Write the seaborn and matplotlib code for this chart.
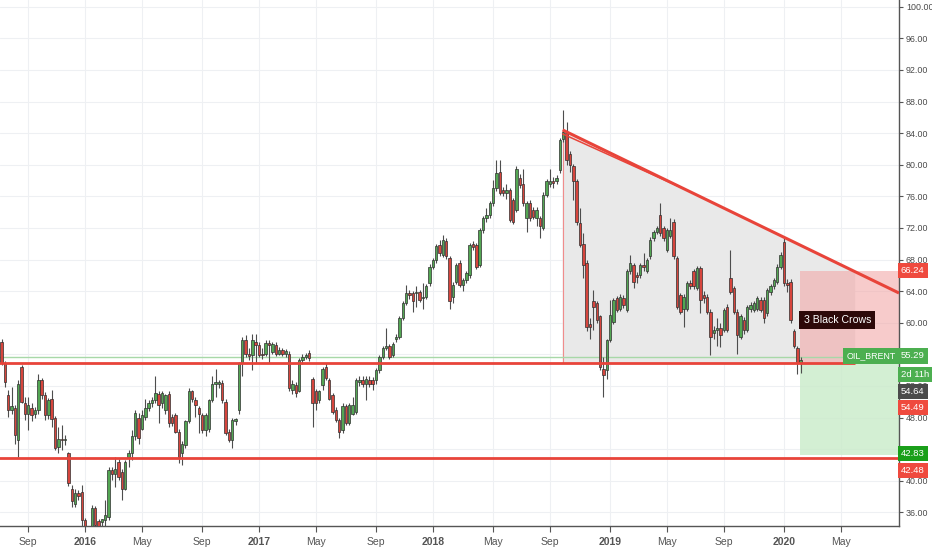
import matplotlib
matplotlib.use("Agg")
import matplotlib.pyplot as plt
import matplotlib.transforms as mtransforms
from matplotlib.patches import Polygon, Rectangle
import numpy as np
import pandas as pd
import seaborn as sns

# weekly OIL_BRENT candles, bar 0 = week of 2015-07-06
start = pd.Timestamp("2015-07-06")

opens = [
    58.9, 57.6, 54.9, 50.9, 48.9, 49.2, 45.1, 54.4, 49.8, 48.5,
    49.2, 48.5, 48.9, 52.7, 50.9, 48.3, 50.3, 47.9, 44.3, 45.3,
    45.1, 43.5, 39.0, 37.1, 38.5, 38.6, 35.0, 31.8, 33.5, 36.6,
    34.9, 34.8, 35.0, 35.4, 41.4, 40.9, 42.4, 41.1, 39.0, 43.0,
    43.5, 45.6, 47.9, 46.6, 48.1, 49.2, 49.8, 50.2, 51.0, 49.8,
    48.9, 51.0, 48.1, 48.3, 46.2, 43.5, 44.5, 47.5, 51.3, 50.2,
    49.2, 48.3, 46.4, 46.6, 50.2, 52.3, 52.3, 52.4, 50.0, 46.2,
    45.2, 47.5, 48.95, 54.85, 57.8, 56.1, 55.9, 57.6, 57.2, 56.1,
    56.1, 57.4, 56.3, 57.2, 56.1, 56.5, 56.1, 56.1, 51.5, 52.1,
    51.4, 55.3, 55.6, 56.2, 52.9, 51.3, 50.2, 52.1, 54.4, 52.75,
    50.85, 48.95, 47.7, 46.4, 49.4, 47.3, 48.5, 48.7, 52.5, 52.8,
    52.3, 52.8, 52.75, 52.75, 54.0, 55.7, 56.8, 57.0, 55.9, 58.0,
    58.2, 60.6, 62.45, 63.8, 63.7, 63.7, 63.9, 63.1, 63.3, 65.0,
    67.1, 67.9, 69.8, 68.6, 70.4, 68.2, 63.3, 65.2, 67.5, 64.8,
    65.4, 66.0, 70.0, 69.8, 67.3, 71.7, 73.2, 73.6, 75.1, 77.0,
    79.1, 76.8, 76.4, 76.8, 75.5, 74.3, 78.3, 77.6, 73.2, 75.1,
    74.3, 73.2, 73.2, 72.0, 76.2, 77.5, 77.9, 77.9, 79.3, 83.3,
    84.0, 81.4, 79.8, 77.9, 72.6, 70.0, 67.6, 59.9, 62.7, 62.45,
    60.8, 54.2, 54.0, 57.8, 60.1, 63.1, 61.8, 63.1, 61.6, 66.5,
    67.3, 66.0, 66.0, 67.3, 66.6, 68.4, 70.7, 71.5, 73.6, 72.0,
    69.2, 71.0, 72.8, 68.2, 63.5, 61.8, 61.8, 65.0, 66.5, 64.4,
    66.9, 63.5, 63.3, 61.4, 58.7, 59.1, 59.3, 59.1, 62.0, 65.6,
    64.35, 61.4, 58.2, 60.3, 59.1, 61.8, 61.6, 61.8, 62.9, 62.9,
    61.2, 63.9, 64.6, 65.2, 67.1, 70.2, 65.0, 65.2, 58.9, 56.8,
    54.9,
]
highs = [
    59.3, 58.0, 55.1, 51.5, 51.9, 49.6, 52.7, 54.6, 50.6, 50.6,
    49.8, 49.3, 53.5, 53.0, 51.2, 50.5, 51.5, 48.2, 46.8, 47.0,
    45.8, 43.7, 39.4, 39.0, 38.8, 39.5, 35.3, 34.0, 36.9, 36.8,
    35.1, 35.2, 37.5, 41.8, 41.8, 43.0, 42.8, 41.5, 42.6, 43.9,
    46.4, 48.9, 48.6, 48.9, 50.4, 50.2, 50.6, 53.2, 51.3, 51.4,
    51.0, 51.3, 48.4, 48.6, 46.5, 45.0, 47.7, 51.7, 51.5, 50.6,
    49.5, 48.6, 48.6, 50.4, 53.2, 54.2, 52.8, 52.7, 50.3, 46.5,
    47.9, 48.0, 55.0, 58.2, 58.4, 56.8, 58.6, 58.6, 57.6, 56.8,
    57.8, 57.8, 57.6, 57.5, 56.9, 56.8, 56.7, 56.4, 52.8, 52.5,
    55.5, 56.0, 56.2, 56.5, 53.1, 51.6, 51.5, 54.4, 54.9, 53.0,
    51.1, 49.3, 48.0, 49.8, 49.7, 49.9, 50.6, 53.0, 53.3, 53.3,
    53.3, 53.2, 53.1, 54.3, 55.9, 57.0, 59.3, 57.3, 57.6, 58.6,
    60.8, 62.7, 64.8, 64.1, 64.0, 64.6, 64.2, 65.0, 64.9, 67.4,
    68.2, 70.0, 70.5, 71.1, 70.7, 68.5, 65.1, 67.6, 67.9, 65.7,
    66.6, 70.1, 70.4, 70.1, 72.0, 73.5, 74.5, 75.4, 78.1, 80.6,
    80.6, 77.2, 77.6, 77.1, 75.8, 79.8, 78.8, 79.5, 75.4, 75.5,
    74.6, 74.6, 73.5, 76.5, 78.2, 79.5, 78.4, 78.7, 83.4, 86.9,
    85.4, 81.8, 80.1, 78.2, 74.5, 71.3, 68.0, 60.6, 64.1, 62.7,
    61.0, 55.7, 58.0, 62.9, 63.1, 63.4, 63.6, 63.5, 66.8, 68.6,
    67.6, 66.4, 67.6, 68.8, 68.2, 70.8, 71.8, 72.3, 75.1, 72.3,
    72.0, 73.2, 73.1, 68.5, 63.8, 63.6, 65.3, 65.4, 66.8, 67.2,
    67.2, 64.0, 63.6, 61.7, 59.6, 60.6, 60.0, 61.9, 62.4, 69.2,
    64.7, 61.7, 61.1, 60.7, 62.3, 62.6, 62.8, 63.4, 63.3, 63.2,
    64.4, 64.9, 65.7, 67.4, 68.9, 70.7, 65.5, 65.5, 59.2, 57.1,
    55.7,
]
lows = [
    57.4, 54.7, 51.9, 48.1, 48.5, 44.7, 43.0, 49.8, 47.7, 46.4,
    47.6, 48.0, 48.5, 50.3, 47.7, 47.8, 46.8, 43.9, 43.5, 43.9,
    44.5, 39.3, 36.7, 36.7, 37.5, 33.9, 31.0, 30.5, 33.0, 33.8,
    32.8, 33.2, 33.8, 35.0, 40.1, 39.2, 40.1, 37.6, 38.8, 41.8,
    42.6, 45.2, 44.7, 46.4, 47.7, 48.8, 49.3, 49.8, 47.3, 49.2,
    48.5, 46.8, 46.9, 46.0, 42.2, 42.0, 44.2, 47.3, 50.0, 48.1,
    46.0, 46.0, 45.6, 46.2, 50.0, 50.6, 51.8, 49.8, 45.8, 44.9,
    44.1, 47.0, 48.5, 53.2, 55.7, 55.3, 54.0, 54.9, 55.6, 55.4,
    55.8, 54.9, 56.0, 55.8, 55.9, 55.8, 55.7, 51.3, 51.0, 50.6,
    51.2, 54.8, 55.4, 55.1, 46.8, 49.0, 49.9, 51.5, 52.8, 50.2,
    48.5, 47.4, 45.4, 46.0, 47.0, 47.0, 48.3, 48.4, 52.0, 51.9,
    50.2, 51.9, 51.5, 52.3, 53.6, 55.4, 56.5, 55.4, 55.6, 57.6,
    57.9, 60.3, 62.2, 63.0, 61.4, 62.0, 62.6, 61.8, 63.0, 64.7,
    66.8, 67.6, 68.5, 68.3, 68.1, 61.8, 62.5, 64.9, 64.5, 64.0,
    65.0, 65.7, 69.2, 66.8, 67.0, 71.4, 72.8, 73.3, 74.8, 76.7,
    76.2, 76.0, 75.7, 72.7, 72.5, 74.0, 77.1, 74.8, 71.5, 72.9,
    73.1, 72.2, 70.7, 71.7, 75.9, 77.2, 77.0, 77.5, 78.9, 82.9,
    80.0, 79.1, 75.5, 72.4, 69.6, 65.6, 58.9, 58.0, 59.1, 60.0,
    54.0, 50.6, 52.9, 57.5, 59.8, 61.3, 61.5, 61.9, 61.3, 66.2,
    64.4, 65.0, 65.7, 66.6, 66.3, 68.1, 70.4, 71.2, 71.0, 70.3,
    68.9, 70.7, 68.1, 61.7, 61.1, 59.5, 61.5, 64.3, 64.3, 64.1,
    61.2, 62.5, 61.1, 55.9, 57.9, 57.0, 56.9, 58.8, 58.8, 63.6,
    61.1, 56.1, 57.9, 58.6, 58.8, 61.3, 61.3, 61.5, 61.3, 60.0,
    60.9, 63.5, 64.3, 64.9, 66.8, 64.7, 63.9, 60.0, 56.8, 53.5,
    53.6,
]
closes = [
    57.6, 54.9, 52.5, 49.0, 49.4, 45.8, 52.3, 50.0, 48.4, 49.6,
    48.3, 48.9, 52.7, 50.9, 48.3, 50.2, 47.8, 44.1, 45.3, 45.1,
    45.3, 39.7, 37.4, 38.4, 38.1, 35.0, 31.8, 33.5, 36.6, 34.4,
    33.5, 35.1, 35.6, 41.35, 40.9, 41.5, 40.5, 39.0, 42.4, 43.5,
    45.6, 48.6, 45.4, 48.3, 49.2, 49.8, 50.2, 51.1, 49.6, 51.1,
    50.8, 47.3, 47.3, 46.2, 43.0, 44.7, 47.5, 51.3, 50.4, 49.6,
    48.5, 46.4, 48.3, 50.2, 52.3, 52.4, 52.5, 50.2, 46.0, 45.2,
    47.7, 47.8, 54.85, 57.8, 56.1, 55.8, 57.8, 57.2, 55.9, 55.9,
    57.4, 57.2, 57.3, 56.1, 56.5, 56.1, 56.4, 51.7, 52.3, 51.1,
    55.3, 55.6, 55.9, 55.5, 49.8, 49.8, 51.3, 54.2, 53.0, 50.4,
    48.7, 47.7, 46.2, 49.4, 47.3, 49.6, 49.6, 52.75, 52.8, 52.3,
    52.9, 52.3, 52.3, 54.0, 55.7, 56.8, 57.0, 55.7, 57.3, 58.2,
    60.6, 62.45, 63.7, 63.5, 62.7, 63.9, 62.9, 63.3, 64.6, 67.1,
    67.9, 69.7, 68.8, 70.5, 68.4, 62.7, 64.8, 67.3, 64.8, 65.4,
    66.3, 69.8, 69.6, 67.1, 71.7, 73.2, 73.6, 75.1, 77.0, 78.9,
    76.4, 76.4, 76.8, 73.0, 72.8, 79.5, 77.4, 75.1, 75.1, 73.2,
    73.4, 74.3, 72.2, 76.2, 77.9, 77.9, 77.7, 78.3, 83.1, 84.2,
    80.6, 80.0, 77.9, 72.8, 69.8, 67.3, 59.5, 59.5, 62.0, 60.3,
    54.4, 53.4, 57.8, 61.0, 62.9, 61.6, 63.3, 62.2, 66.5, 67.5,
    65.2, 65.8, 67.3, 67.1, 67.9, 70.5, 71.5, 72.0, 71.3, 70.7,
    71.7, 71.7, 68.4, 62.0, 61.4, 63.3, 65.0, 64.6, 64.6, 66.9,
    62.9, 63.1, 61.4, 58.2, 59.1, 59.3, 58.4, 61.6, 59.1, 63.9,
    61.4, 58.4, 60.8, 59.1, 62.0, 62.2, 62.45, 63.1, 61.6, 60.6,
    64.1, 64.6, 65.4, 67.1, 68.6, 65.0, 64.8, 60.3, 57.0, 54.9,
    55.3,
]

# drawings on the chart
support_level = 54.9
lower_level = 42.9
last_price_line = 55.6
trend_start = (168.8, 84.4)
trend_end = (269.4, 63.76)
triangle_end_bar = 256.3
position_start_bar = 239.8
target_top = 66.6
stop_bottom = 43.25

tick_months = ["2015-09-01", "2016-01-01", "2016-05-01", "2016-09-01", "2017-01-01",
               "2017-05-01", "2017-09-01", "2018-01-01", "2018-05-01", "2018-09-01",
               "2019-01-01", "2019-05-01", "2019-09-01", "2020-01-01", "2020-05-01"]
tick_names = ["Sep", "2016", "May", "Sep", "2017", "May", "Sep", "2018", "May", "Sep",
              "2019", "May", "Sep", "2020", "May"]

axis_labels = ["66.24", "55.29", "2d 11h", "54.64", "54.49", "42.83", "42.48"]
axis_label_y = [66.67, 55.79, 53.45, 51.35, 49.25, 43.5, 41.35]
axis_label_colors = ["#ef4a3e", "#4caf50", "#4caf50", "#4a4a4a", "#ef4a3e", "#1a9f1a", "#ef4a3e"]

sns.set_theme(style="white")
plt.rcParams['font.family'] = ['Liberation Sans', 'DejaVu Sans']

fig = plt.figure(figsize=(9.32, 5.5), dpi=100)
ax = fig.add_axes([0, 24 / 550, 899 / 932, 526 / 550])

o = np.array(opens)
h = np.array(highs)
l = np.array(lows)
c = np.array(closes)
idx = np.arange(len(c))
up = c >= o
body_colors = np.where(up, "#53a653", "#d6453d")

# triangle shading
slope = (trend_end[1] - trend_start[1]) / (trend_end[0] - trend_start[0])
tri_top = trend_start[1] + slope * (triangle_end_bar - trend_start[0])
ax.add_patch(Polygon([(trend_start[0], trend_start[1]), (triangle_end_bar, tri_top),
                      (triangle_end_bar, support_level), (trend_start[0], support_level)],
                     closed=True, facecolor="#e9e9e9", edgecolor="none", zorder=1))
ax.vlines(trend_start[0], support_level, trend_start[1], color="#f08c8c", lw=0.8, zorder=2)

# long/short position boxes
ax.add_patch(Rectangle((position_start_bar, support_level), trend_end[0] - position_start_bar,
                       target_top - support_level, facecolor="#f2a9a9", alpha=0.6,
                       edgecolor="none", zorder=1.5))
ax.add_patch(Rectangle((position_start_bar, stop_bottom), trend_end[0] - position_start_bar,
                       support_level - stop_bottom, facecolor="#c9ebc9", alpha=0.8,
                       edgecolor="none", zorder=1.5))

# candles
ax.vlines(idx, l, h, color="#4d4d4d", lw=0.8, zorder=3)
ax.bar(idx, np.maximum(np.abs(c - o), 0.15), bottom=np.minimum(o, c), width=0.72,
       color=body_colors, edgecolor="#2f2f2f", linewidth=0.5, zorder=4)

# lines
ax.hlines(last_price_line, 0, triangle_end_bar, color="#a8d8a8", lw=1.0, zorder=2)
ax.hlines(support_level, 0, triangle_end_bar, color="#e8443a", lw=2.0, zorder=5)
ax.hlines(lower_level, 0, trend_end[0], color="#e8443a", lw=2.0, zorder=5)
ax.plot([trend_start[0], trend_end[0]], [trend_start[1], trend_end[1]],
        color="#e8443a", lw=2.2, zorder=5, solid_capstyle="butt")
ax.plot([trend_start[0], 205], [trend_start[1] - 0.5, trend_start[1] + slope * (205 - trend_start[0])],
        color="#e8443a", lw=1.1, zorder=5)

ax.text(240.9, 60.35, "3 Black Crows", color="white", fontsize=7.6, va="center", ha="left",
        zorder=7, bbox=dict(boxstyle="square,pad=0.4", facecolor="#2d0909", edgecolor="none"))

trans = mtransforms.blended_transform_factory(ax.transAxes, ax.transData)
ax.text(0.997, 55.79, "OIL_BRENT", transform=trans, color="white", fontsize=6.4,
        va="center", ha="right", zorder=7,
        bbox=dict(boxstyle="square,pad=0.4", facecolor="#4caf50", edgecolor="none"))

# axes
ax.set_xlim(0.54, trend_end[0])
ax.set_ylim(34.27, 100.85)

tick_pos = []
for m in tick_months:
    d = pd.Timestamp(m)
    first_bar = d + pd.Timedelta(days=(7 - d.weekday()) % 7)
    tick_pos.append((first_bar - start).days / 7)
ax.set_xticks(tick_pos)
ax.set_xticklabels(tick_names)
for lab in ax.get_xticklabels():
    if lab.get_text().isdigit():
        lab.set_fontweight("bold")
        lab.set_color("#333333")

yt = np.arange(36, 101, 4)
ax.set_yticks(yt)
ax.set_yticklabels([f"{v:.2f}" for v in yt])
ax.yaxis.tick_right()

ax.tick_params(axis="x", bottom=True, length=4, width=0.8, color="#555555",
               labelsize=7.5, labelcolor="#555555", pad=4)
ax.tick_params(axis="y", right=True, left=False, length=3, width=0.8, color="#555555",
               labelsize=6.4, labelcolor="#4a4a4a", pad=2)

ax.grid(True, color="#eef0f3", lw=0.8, zorder=0)
ax.set_axisbelow(True)
for side in ["left", "top"]:
    ax.spines[side].set_visible(False)
for side in ["right", "bottom"]:
    ax.spines[side].set_color("#555555")
    ax.spines[side].set_linewidth(1.0)

for txt, yv, col in zip(axis_labels, axis_label_y, axis_label_colors):
    ax.text(1.0022, yv, txt, transform=trans, color="white", fontsize=6.8, va="center",
            ha="left", zorder=8, clip_on=False,
            bbox=dict(boxstyle="square,pad=0.32", facecolor=col, edgecolor="none"))

fig.savefig("out.png", dpi=100, facecolor="white")
